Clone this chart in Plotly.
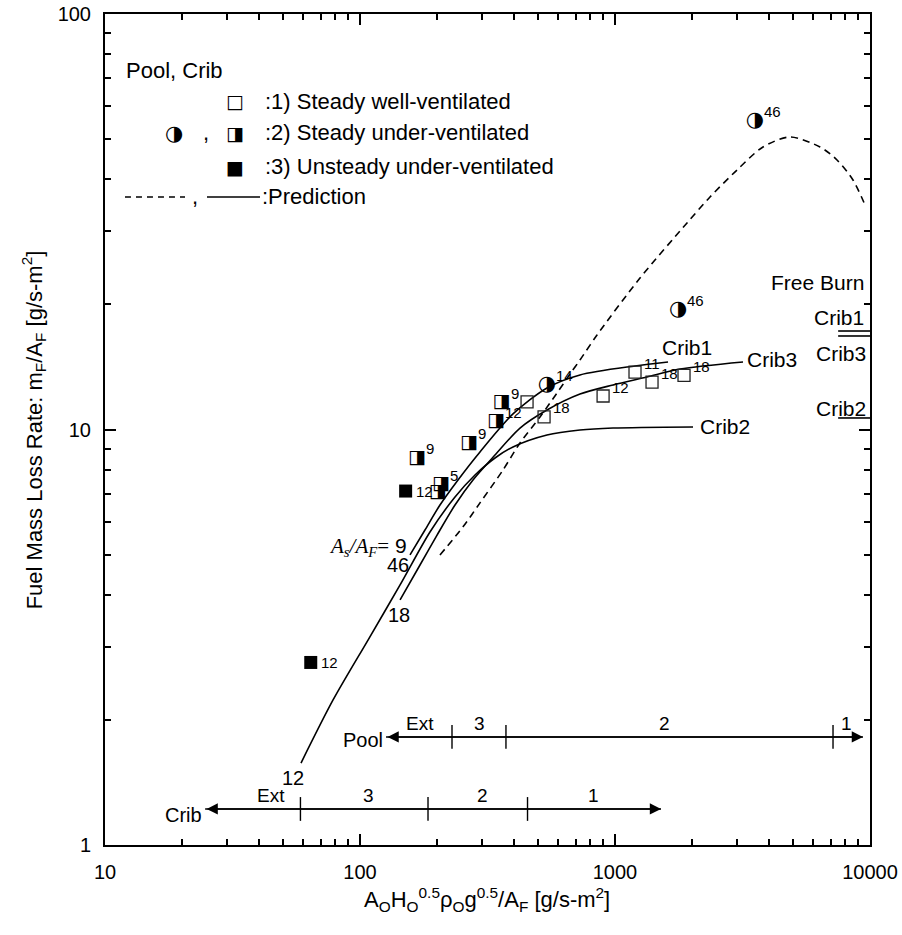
import numpy as np
import plotly.graph_objects as go

FONT = "Liberation Sans, Arial, sans-serif"
GLYPH = "DejaVu Sans"

# ---------------- data ----------------
# Pool fires, steady under-ventilated (half-filled circles)
pool_x = [3540, 1767, 541]
pool_y = [55.4, 19.4, 12.8]
pool_lab = ["46", "46", "14"]

# Cribs, steady well-ventilated (open squares)
wv_x = [452, 527, 898, 1198, 1397, 1865]
wv_y = [11.65, 10.72, 12.04, 13.75, 13.0, 13.5]
wv_lab = ["", "18", "12", "11", "18", "18"]

# Cribs, steady under-ventilated (half-filled squares)
uv_x = [359, 341.6, 267.6, 167.3, 207.8, 201.7]
uv_y = [11.6, 10.44, 9.29, 8.54, 7.39, 7.08]
uv_lab = ["9", "12", "9", "9", "5", ""]

# Cribs, unsteady under-ventilated (filled squares)
us_x = [151, 64.1]
us_y = [7.11, 2.75]
us_lab = ["12", "12"]

# Predictions
crib1_x = [157.1, 179.8, 205.9, 242.3, 295.5, 398.1, 541.1, 729.0, 1198, 1614]
crib1_y = [4.99, 5.73, 6.58, 7.56, 8.83, 10.90, 12.59, 13.53, 14.22, 14.54]
crib3_x = [143.6, 171.9, 200.5, 235.8, 277.4, 338.3, 424.1, 541.1, 729.0, 982.2, 1335, 1798, 3177]
crib3_y = [3.89, 4.72, 5.57, 6.58, 7.56, 8.68, 10.08, 11.14, 12.17, 12.80, 13.38, 13.98, 14.54]
crib2_x = [58.7, 78.4, 107.5, 143.6, 188.1, 235.8, 282.5, 338.3, 398.1, 541.1, 729.0, 982.2, 2023]
crib2_y = [1.575, 2.234, 3.114, 4.225, 5.667, 6.88, 7.77, 8.54, 9.08, 9.70, 9.97, 10.08, 10.14]
poolp_x = [205.9, 253.5, 295.5, 363.7, 424.1, 508.0, 592.2, 666.3, 729.0, 850.0, 1253, 1916,
           2358, 3008, 3805, 4857, 6367, 7425, 8578, 9559]
poolp_y = [4.99, 5.83, 6.66, 7.99, 9.28, 10.72, 12.24, 13.60, 14.70, 16.88, 23.15, 31.41,
           36.28, 42.12, 47.86, 50.58, 47.86, 44.53, 39.86, 34.70]

# Free burn rates
free_x = [7500, 10000]
free_crib1 = 17.26
free_crib3 = 16.79
free_crib2 = 10.66

# Regime bars
pool_bar_x = [126.5, 9386]
pool_bar_y = 1.82
pool_bar_ticks = [229.5, 373.6, 7161]
pool_bar_lab_x = [171.9, 295.5, 1570, 8054]
pool_bar_lab = ["Ext", "3", "2", "1"]

crib_bar_x = [24.7, 1515]
crib_bar_y = 1.221
crib_bar_ticks = [58.4, 184.8, 453.9]
crib_bar_lab_x = [44.8, 107.5, 300.9, 827]
crib_bar_lab = ["Ext", "3", "2", "1"]

x_ticks = [10, 100, 1000, 10000]
x_ticktext = ["10", "100", "1000", "10000"]
y_ticks = [1, 10, 100]
y_ticktext = ["1", "10", "100"]


def L(v):
    return float(np.log10(v))


fig = go.Figure()

# prediction curves
for xs, ys in [(crib1_x, crib1_y), (crib3_x, crib3_y), (crib2_x, crib2_y)]:
    fig.add_trace(go.Scatter(x=xs, y=ys, mode="lines", line=dict(color="black", width=1.6, shape="spline", smoothing=0.8),
                             hoverinfo="skip", showlegend=False))
fig.add_trace(go.Scatter(x=poolp_x, y=poolp_y, mode="lines",
                         line=dict(color="black", width=1.6, dash="7px,5px", shape="spline", smoothing=0.8),
                         hoverinfo="skip", showlegend=False))

# free-burn lines
for v in [free_crib1, free_crib3, free_crib2]:
    fig.add_trace(go.Scatter(x=free_x, y=[v, v], mode="lines", line=dict(color="black", width=1.6),
                             hoverinfo="skip", showlegend=False))

# regime bars
for bx, by, bt in [(pool_bar_x, pool_bar_y, pool_bar_ticks), (crib_bar_x, crib_bar_y, crib_bar_ticks)]:
    fig.add_trace(go.Scatter(x=bx, y=[by, by], mode="lines", line=dict(color="black", width=1.6),
                             hoverinfo="skip", showlegend=False))
    fig.add_trace(go.Scatter(x=bt, y=[by] * len(bt), mode="markers",
                             marker=dict(symbol="line-ns", size=17, line=dict(color="black", width=1.4)),
                             hoverinfo="skip", showlegend=False))

# markers
fig.add_trace(go.Scatter(x=wv_x, y=wv_y, mode="markers",
                         marker=dict(symbol="square-open", size=12, color="#222", line=dict(width=1.3)),
                         showlegend=False))
fig.add_trace(go.Scatter(x=us_x, y=us_y, mode="markers",
                         marker=dict(symbol="square", size=13, color="black"), showlegend=False))
fig.add_trace(go.Scatter(x=uv_x, y=uv_y, mode="text", text=["◨"] * len(uv_x),
                         textfont=dict(family=GLYPH, size=19, color="black"), textposition="middle center",
                         showlegend=False))
fig.add_trace(go.Scatter(x=pool_x, y=pool_y, mode="text", text=["◑"] * len(pool_x),
                         textfont=dict(family=GLYPH, size=21, color="black"), textposition="middle center",
                         showlegend=False))

ann = []


def dtext(x, y, text, size=16, xanchor="left", yanchor="middle", xshift=0, yshift=0, family=FONT):
    ann.append(dict(x=L(x), y=L(y), xref="x", yref="y", text=text, showarrow=False,
                    xanchor=xanchor, yanchor=yanchor, xshift=xshift, yshift=yshift,
                    font=dict(family=family, size=size, color="black")))


def ptext(x, y, text, size=22, xanchor="left", yanchor="middle", family=FONT, angle=0):
    ann.append(dict(x=x, y=y, xref="paper", yref="paper", text=text, showarrow=False,
                    xanchor=xanchor, yanchor=yanchor, textangle=angle,
                    font=dict(family=family, size=size, color="black")))


# point labels
for xs, ys, labs in [(pool_x, pool_y, pool_lab), (wv_x, wv_y, wv_lab), (uv_x, uv_y, uv_lab)]:
    for x, y, t in zip(xs, ys, labs):
        if t:
            dtext(x, y, t, size=15, xshift=7, yshift=9)
for x, y, t in zip(us_x, us_y, us_lab):
    dtext(x, y, t, size=15, xshift=8, yshift=0)

# curve labels
dtext(1916, 15.71, "Crib1", size=21, xanchor="center")
dtext(4128, 14.78, "Crib3", size=21, xanchor="center")
dtext(2700, 10.19, "Crib2", size=21, xanchor="center")
dtext(74.2, 5.21, '<span style="font-family:Liberation Serif"><i>A<sub>s</sub>/A<sub>F</sub></i>=</span> 9',
      size=21, xanchor="left")
dtext(142.2, 3.577, "18", size=20, xanchor="center")
dtext(140.9, 4.72, "46", size=20, xanchor="center")
dtext(54.6, 1.45, "12", size=20, xanchor="center")

# free-burn labels (paper coords)
ptext(0.995, 0.6763, "Free Burn", size=21, xanchor="right")
ptext(0.995, 0.6342, "Crib1", size=21, xanchor="right")
ptext(0.997, 0.592, "Crib3", size=21, xanchor="right")
ptext(0.997, 0.5247, "Crib2", size=21, xanchor="right")

# regime bar arrows and labels
for bx, by in [(pool_bar_x, pool_bar_y), (crib_bar_x, crib_bar_y)]:
    ann.append(dict(x=L(bx[1]), y=L(by), ax=L(bx[0]), ay=L(by), xref="x", yref="y", axref="x", ayref="y",
                    text="", showarrow=True, arrowhead=2, arrowside="end+start", arrowsize=1.4,
                    arrowwidth=1.6, arrowcolor="black", standoff=0, startstandoff=0))
for x, t in zip(pool_bar_lab_x, pool_bar_lab):
    dtext(x, pool_bar_y, t, size=19, xanchor="center", yanchor="bottom", yshift=1)
for x, t in zip(crib_bar_lab_x, crib_bar_lab):
    dtext(x, crib_bar_y, t, size=19, xanchor="center", yanchor="bottom", yshift=1)
dtext(pool_bar_x[0], pool_bar_y, "Pool", size=20, xanchor="right", yshift=-3, xshift=-1)
dtext(crib_bar_x[0], crib_bar_y, "Crib", size=20, xanchor="right", yshift=-6, xshift=-1)

# legend block (paper coords)
ptext(0.0248, 0.9326, "Pool, Crib", size=22)
ptext(0.170, 0.8953, "□", size=19, xanchor="center", family=GLYPH)
ptext(0.2065, 0.8953, ":1) Steady well-ventilated", size=22)
ptext(0.0902, 0.8568, "◑", size=21, xanchor="center", family=GLYPH)
ptext(0.132, 0.8568, ",", size=22, xanchor="center")
ptext(0.170, 0.8568, "◨", size=19, xanchor="center", family=GLYPH)
ptext(0.2065, 0.8568, ":2) Steady under-ventilated", size=22)
ptext(0.170, 0.8159, "■", size=19, xanchor="center", family=GLYPH)
ptext(0.2065, 0.8159, ":3) Unsteady under-ventilated", size=22)
ptext(0.1176, 0.7798, ",", size=22, xanchor="center")
ptext(0.2026, 0.7798, ":Prediction", size=22)

shapes = [
    dict(type="line", xref="paper", yref="paper", x0=0.0261, x1=0.1046, y0=0.7798, y1=0.7798,
         line=dict(color="black", width=1.4, dash="6px,5px")),
    dict(type="line", xref="paper", yref="paper", x0=0.1333, x1=0.2026, y0=0.7798, y1=0.7798,
         line=dict(color="black", width=1.4)),
]

# axis titles
ptext(0.4993, -0.066,
      "A<sub>O</sub>H<sub>O</sub><sup>0.5</sup>ρ<sub>O</sub>g<sup>0.5</sup>/A<sub>F</sub> [g/s-m<sup>2</sup>]",
      size=22, xanchor="center")
ptext(-0.093, 0.5, "Fuel Mass Loss Rate: m<sub>F</sub>/A<sub>F</sub> [g/s-m<sup>2</sup>]",
      size=22, xanchor="center", angle=-90)

minor_x = [m * 10 ** k for k in range(1, 4) for m in range(2, 10)]
minor_y = [m * 10 ** k for k in range(0, 2) for m in range(2, 10)]

axis_common = dict(type="log", showline=True, linewidth=2, linecolor="black", mirror="allticks",
                   ticks="inside", ticklen=11, tickwidth=1.5, tickcolor="black", showgrid=False,
                   zeroline=False, tickfont=dict(family=FONT, size=20, color="black"),
                   ticklabeloverflow="allow")

fig.update_xaxes(range=[1, 4], tickvals=x_ticks, ticktext=x_ticktext, ticklabelstandoff=8,
                 minor=dict(ticks="inside", ticklen=6, tickwidth=1.5, tickcolor="black",
                            tickmode="array", tickvals=minor_x, showgrid=False),
                 **axis_common)
fig.update_yaxes(range=[0, 2], tickvals=y_ticks, ticktext=y_ticktext, ticklabelstandoff=8,
                 minor=dict(ticks="inside", ticklen=6, tickwidth=1.5, tickcolor="black",
                            tickmode="array", tickvals=minor_y, showgrid=False),
                 **axis_common)

fig.update_layout(width=902, height=935, margin=dict(l=105, r=32, t=14, b=90, autoexpand=False),
                  plot_bgcolor="white", paper_bgcolor="white", showlegend=False,
                  annotations=ann, shapes=shapes, font=dict(family=FONT, color="black"))

fig.write_html("out.html", config={"displayModeBar": False},
               post_script="document.body.style.margin='0px';document.body.style.overflow='hidden';")
